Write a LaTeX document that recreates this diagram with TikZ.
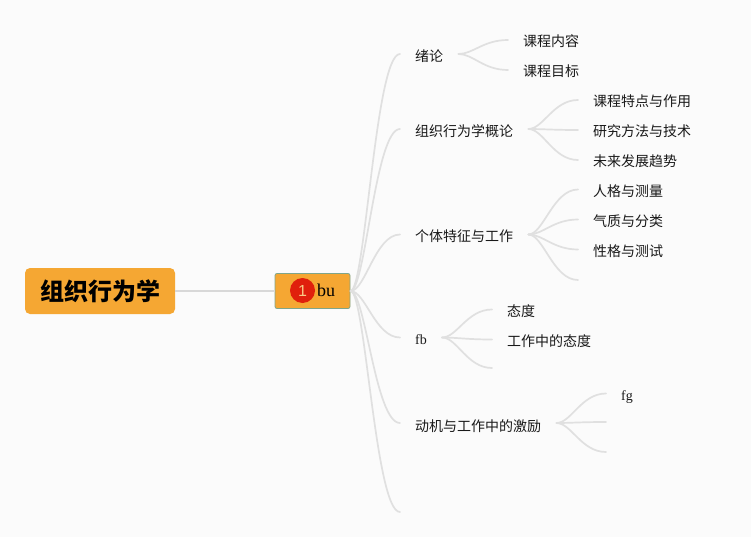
\documentclass[tikz,border=0pt]{standalone}
\usepackage{fontspec}
\setmainfont{Liberation Serif}
\newfontfamily\cjk{Noto Sans CJK SC}
\newfontfamily\sansf{Liberation Sans}
\usetikzlibrary{calc}
\definecolor{bgc}{HTML}{FBFBFB}
\definecolor{linec}{HTML}{E0E0E0}
\definecolor{rootline}{HTML}{D8D8D8}
\definecolor{orangec}{HTML}{F5A733}
\definecolor{edgec}{HTML}{7FA58A}
\definecolor{badgec}{HTML}{E0200C}
\tikzset{
  x=1pt,y=-1pt,
  topic/.style={anchor=west,inner xsep=15pt,inner ysep=0pt,text height=14pt,text depth=0pt,font=\fontsize{14}{14}\selectfont\cjk,text=black!90},
  maintopic/.style={topic,text height=16pt},
  latin/.style={topic,font=\fontsize{14}{14}\selectfont},
  stub/.style={inner sep=0pt,outer sep=0pt,minimum size=0pt},
  rootnode/.style={fill=orangec,rounded corners=5pt,minimum width=150pt,minimum height=46pt,inner sep=0pt,outer sep=0pt,font=\fontsize{24}{24}\selectfont\cjk\bfseries},
  bunode/.style={fill=orangec,draw=edgec,line width=.8pt,rounded corners=2pt,minimum width=75pt,minimum height=35pt,inner sep=0pt,outer sep=.5pt},
  badgenode/.style={circle,fill=badgec,minimum size=25pt,inner sep=0pt,text=orangec!60!white,font=\fontsize{16}{16}\selectfont\sansf},
  budge/.style={inner sep=0pt,font=\fontsize{18}{18}\selectfont},
  link/.style={draw=linec,line width=1.7pt,line cap=round},
}
\newcommand{\conn}[2]{\path[link] let \p1=(#1.east),\p2=(#2.west) in (#1.east) .. controls ({\x1+(\x2-\x1)*0.3},\y1) and ({\x1+(\x2-\x1)*0.5},\y2) .. (#2.west);}
\begin{document}
\begin{tikzpicture}
\useasboundingbox (0,0) rectangle (751,537);
\fill[bgc] (0,0) rectangle (751,537);
% main nodes
\node[rootnode] (root) at (100,291) {组织行为学};
\node[bunode] (bu) at (312.5,291) {};
\node[badgenode] (badge) at (302.5,290.5) {1};
\node[budge] (butext) at (326,290) {bu};
% level 1
\node[maintopic] (a) at (400,54) {绪论};
\node[maintopic] (b) at (400,129) {组织行为学概论};
\node[topic] (c) at (400,234.5) {个体特征与工作};
\node[latin] (d) at (400,337.5) {fb};
\node[maintopic] (e) at (400,423) {动机与工作中的激励};
\node[stub] (f) at (400,512) {};
% level 2
\node[topic] (a1) at (508,40) {课程内容};
\node[topic] (a2) at (508,70) {课程目标};
\node[topic] (b1) at (578,100) {课程特点与作用};
\node[topic] (b2) at (578,130) {研究方法与技术};
\node[topic] (b3) at (578,160) {未来发展趋势};
\node[topic] (c1) at (578,189.5) {人格与测量};
\node[topic] (c2) at (578,219.5) {气质与分类};
\node[topic] (c3) at (578,249.5) {性格与测试};
\node[stub] (c4) at (578,280) {};
\node[topic] (d1) at (492,309.5) {态度};
\node[topic] (d2) at (492,339.5) {工作中的态度};
\node[stub] (d3) at (492,368) {};
\node[latin] (e1) at (606,393.5) {fg};
\node[stub] (e2) at (606,422) {};
\node[stub] (e3) at (606,452) {};
% connectors
\draw[draw=rootline,line width=1.7pt] (root.east) -- (bu.west);
\foreach \t in {a,b,c,d,e,f}{\conn{bu}{\t}}
\conn{a}{a1}\conn{a}{a2}
\conn{b}{b1}\conn{b}{b2}\conn{b}{b3}
\conn{c}{c1}\conn{c}{c2}\conn{c}{c3}\conn{c}{c4}
\conn{d}{d1}\conn{d}{d2}\conn{d}{d3}
\conn{e}{e1}\conn{e}{e2}\conn{e}{e3}
\end{tikzpicture}
\end{document}
